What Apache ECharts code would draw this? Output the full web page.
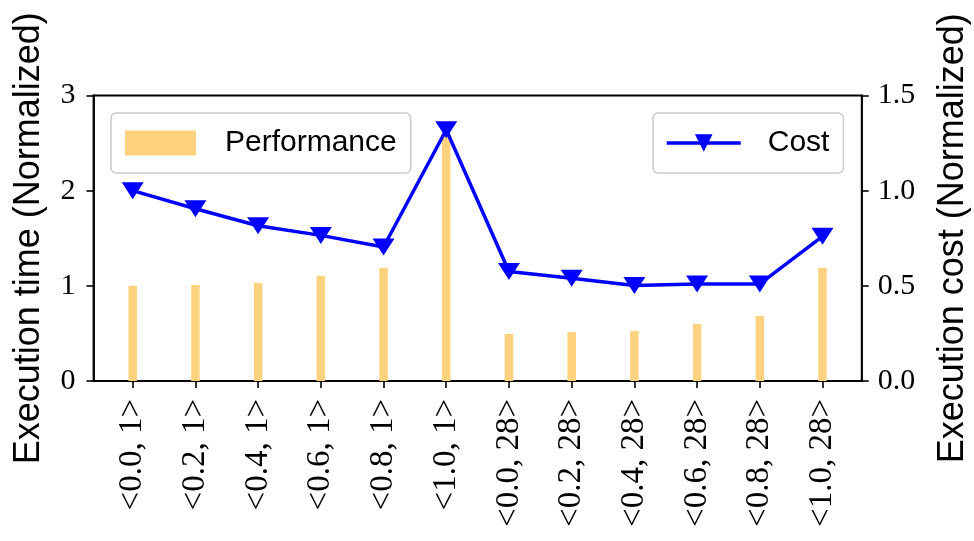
<!DOCTYPE html>
<html>
<head>
<meta charset="utf-8">
<script src="https://cdn.jsdelivr.net/npm/echarts@6/dist/echarts.min.js"></script>
<style>
  html, body { margin: 0; padding: 0; background: #fff; }
  #chart { width: 974px; height: 541px; }
</style>
</head>
<body>
<div id="chart"></div>
<script>
// Configurations <ratio, parallelism>
const categories = ['<0.0, 1>', '<0.2, 1>', '<0.4, 1>', '<0.6, 1>', '<0.8, 1>', '<1.0, 1>',
                    '<0.0, 28>', '<0.2, 28>', '<0.4, 28>', '<0.6, 28>', '<0.8, 28>', '<1.0, 28>'];
// Normalized execution time (left axis)
const performance = [1.0, 1.01, 1.03, 1.105, 1.19, 2.6, 0.495, 0.515, 0.526, 0.6, 0.684, 1.19];
// Normalized execution cost (right axis)
const cost = [1.0, 0.905, 0.816, 0.765, 0.704, 1.32, 0.575, 0.54, 0.502, 0.51, 0.51, 0.76];
const leftTicks = [0, 1, 2, 3];
const rightTicks = [0.0, 0.5, 1.0, 1.5];

const sans = '"Liberation Sans", Arial, sans-serif';
const serif = '"Liberation Serif", "Times New Roman", serif';
const idx = categories.map((_, i) => i);

const chart = echarts.init(document.getElementById('chart'), null, { renderer: 'canvas' });
chart.setOption({
  animation: false,
  backgroundColor: '#fff',
  grid: {
    left: 93.5, right: 112.3, top: 95.5, bottom: 160,
    outerBoundsMode: 'none',
    containLabel: false,
    show: true, borderColor: '#000', borderWidth: 1.8, backgroundColor: 'transparent'
  },
  legend: [
    {
      data: [{ name: 'Performance', icon: 'rect' }],
      left: 111, top: 113,
      padding: [13, 14, 13, 14],
      itemWidth: 71, itemHeight: 25,
      borderColor: '#cccccc', borderWidth: 1.5, borderRadius: 5,
      backgroundColor: 'rgba(255,255,255,0.8)',
      textStyle: { fontFamily: sans, fontSize: 30, color: '#000', padding: [0, 0, 0, 24], lineHeight: 34 }
    },
    {
      data: ['Cost'],
      left: 653, top: 113,
      padding: [13, 14, 13, 12],
      itemWidth: 74, itemHeight: 22,
      lineStyle: { color: '#0000ff', width: 3.5 },
      borderColor: '#cccccc', borderWidth: 1.5, borderRadius: 5,
      backgroundColor: 'rgba(255,255,255,0.8)',
      textStyle: { fontFamily: sans, fontSize: 30, color: '#000', padding: [0, 0, 0, 22], lineHeight: 34 }
    }
  ],
  xAxis: {
    type: 'value',
    min: -0.625, max: 11.625,
    axisLine: { show: true, onZero: false, lineStyle: { color: '#000', width: 1.8 } },
    splitLine: { show: false },
    axisTick: { show: true, customValues: idx, length: 7, lineStyle: { color: '#000', width: 1.6 } },
    axisLabel: {
      customValues: idx,
      rotate: 90,
      margin: 18,
      fontFamily: serif, fontSize: 33, color: '#000',
      formatter: v => categories[Math.round(v)]
    }
  },
  yAxis: [
    {
      type: 'value', min: 0, max: 3, interval: 1,
      position: 'left',
      name: 'Execution time (Normalized)',
      nameLocation: 'middle', nameRotate: 90, nameGap: 46,
      nameTextStyle: { fontFamily: sans, fontSize: 36, color: '#000' },
      axisLine: { show: true, onZero: false, lineStyle: { color: '#000', width: 1.8 } },
      axisTick: { show: true, length: 7, lineStyle: { color: '#000', width: 1.6 } },
      splitLine: { show: false },
      axisLabel: {
        customValues: leftTicks,
        margin: 18, fontFamily: serif, fontSize: 30, color: '#000',
        formatter: v => String(v)
      }
    },
    {
      type: 'value', min: 0, max: 1.5, interval: 0.5,
      position: 'right',
      name: 'Execution cost (Normalized)',
      nameLocation: 'middle', nameRotate: 90, nameGap: 73,
      nameTextStyle: { fontFamily: sans, fontSize: 36, color: '#000' },
      axisLine: { show: true, onZero: false, lineStyle: { color: '#000', width: 1.8 } },
      axisTick: { show: true, length: 7, lineStyle: { color: '#000', width: 1.6 } },
      splitLine: { show: false },
      axisLabel: {
        customValues: rightTicks,
        margin: 16, fontFamily: serif, fontSize: 30, color: '#000',
        formatter: v => v.toFixed(1)
      }
    }
  ],
  series: [
    {
      name: 'Performance',
      type: 'bar',
      yAxisIndex: 0,
      barWidth: 8.5,
      itemStyle: { color: '#ffd27f' },
      data: performance.map((v, i) => [i, v]),
      z: 2
    },
    {
      name: 'Cost',
      type: 'line',
      yAxisIndex: 1,
      symbol: 'triangle',
      symbolRotate: 180,
      symbolSize: [22, 17],
      lineStyle: { color: '#0000ff', width: 3.5 },
      itemStyle: { color: '#0000ff' },
      data: cost.map((v, i) => [i, v]),
      z: 3
    }
  ]
});
</script>
</body>
</html>
